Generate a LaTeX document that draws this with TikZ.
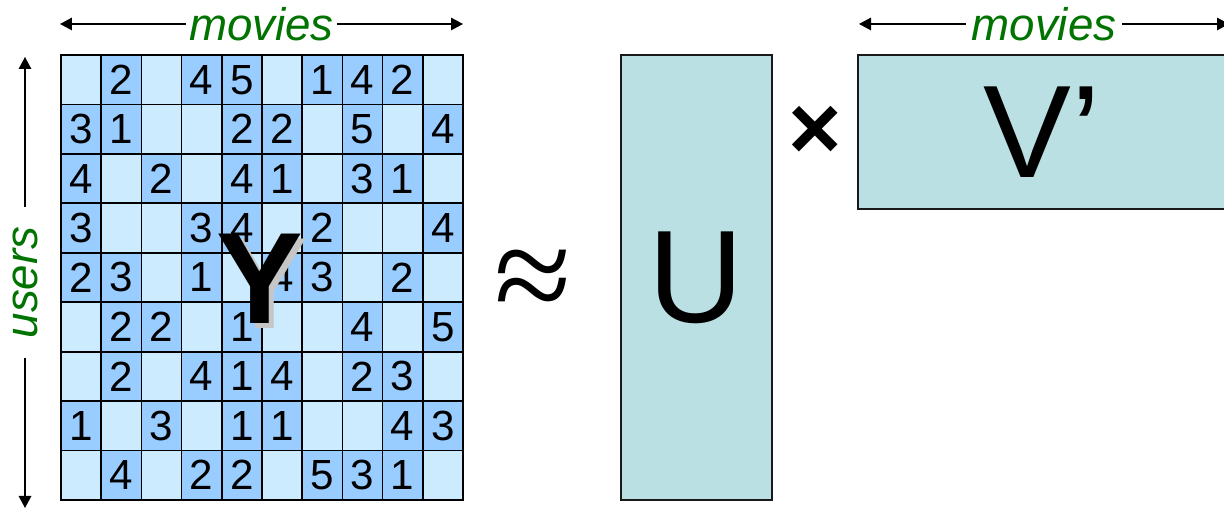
\documentclass[tikz,border=0pt]{standalone}
\usepackage{fontspec}
\setmainfont{Liberation Sans}
\newfontfamily\symfont{Liberation Serif}
\usetikzlibrary{arrows.meta,positioning}
\definecolor{celllight}{rgb}{0.80,0.92,1.00}
\definecolor{celldark}{rgb}{0.60,0.80,1.00}
\definecolor{factfill}{rgb}{0.73,0.88,0.89}
\definecolor{labgreen}{rgb}{0.00,0.45,0.00}
\tikzset{
  cell/.style={draw=black, line width=1pt, minimum width=0.804cm,
    minimum height=0.989cm, inner sep=0pt, font=\fontsize{24}{24}\selectfont},
  factor/.style={draw=black!90, line width=1pt, fill=factfill, inner sep=0pt,
    font=\fontsize{75}{75}\selectfont},
  dimlabel/.style={labgreen, fill=white, inner xsep=2pt, inner ysep=0pt,
    font=\fontsize{26}{26}\selectfont\itshape},
  dimarrow/.style={{Triangle[length=2.4mm,width=2.5mm]}-{Triangle[length=2.4mm,width=2.5mm]},
    line width=0.8pt}
}

\begin{document}
\begin{tikzpicture}[x=0.02cm, y=0.02cm]
  \useasboundingbox (0,0) rectangle (1224,509);
  \clip (0,0) rectangle (1224,509);

  % rating matrix, 0 = no rating
  \foreach \row [count=\r] in {{0,2,0,4,5,0,1,4,2,0},{3,1,0,0,2,2,0,5,0,4},
      {4,0,2,0,4,1,0,3,1,0},{3,0,0,3,4,0,2,0,0,4},{2,3,0,1,0,4,3,0,2,0},
      {0,2,2,0,1,0,0,4,0,5},{0,2,0,4,1,4,0,2,3,0},{1,0,3,0,1,1,0,0,4,3},
      {0,4,0,2,2,0,5,3,1,0}}
    \foreach \v [count=\c] in \row {
      \ifnum\v=0 \def\cellcol{celllight}\def\cellval{}%
      \else \def\cellcol{celldark}\def\cellval{\v}\fi
      \node[cell, fill=\cellcol] (y-\r-\c)
        at ({61+(\c-0.5)*40.2},{454-(\r-0.5)*49.44}) {\cellval};
    };

  \node[gray!45, font=\fontsize{74}{74}\selectfont\bfseries] (yshadow) at (265,225) {Y};
  \node[font=\fontsize{74}{74}\selectfont\bfseries] (ymat) at (260,230) {Y};

  % dimensions of Y
  \coordinate (mvL) at (60,485);
  \coordinate (mvR) at (463,485);
  \draw[dimarrow] (mvL) -- node[dimlabel] (movies) {movies} (mvR);
  \coordinate (usT) at (25,452);
  \coordinate (usB) at (25,1);
  \draw[dimarrow] (usT) -- node[dimlabel, rotate=90, inner xsep=11pt] (users) {users} (usB);

  \node[font=\fontsize{80}{80}\symfont] (approx) at (533,223) {≈};

  % factors
  \node[factor, minimum width=3.02cm, minimum height=8.9cm] (umat) at (696.5,231.5) {U};
  \node[font=\fontsize{52}{52}\selectfont\bfseries] (times) at (815,376) {×};
  \node[factor, minimum width=7.36cm, minimum height=3.08cm] (vmat) at (1042,377) {V’};

  \coordinate (mv2L) at (859,485);
  \coordinate (mv2R) at (1229,485);
  \draw[dimarrow] (mv2L) -- node[dimlabel, inner xsep=3pt] (movies2) {movies} (mv2R);
\end{tikzpicture}
\end{document}
